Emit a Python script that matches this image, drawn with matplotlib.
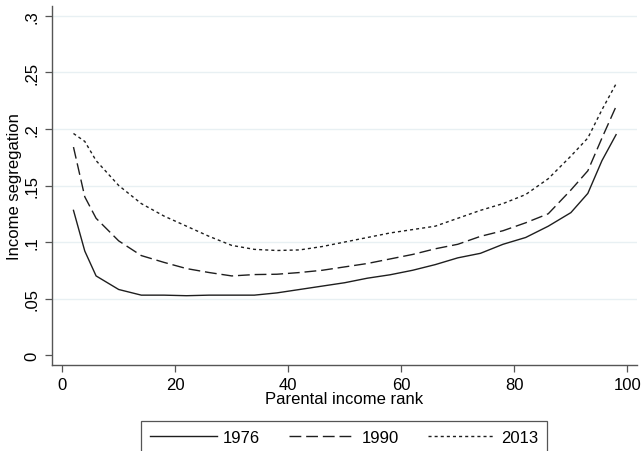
import matplotlib
matplotlib.use("Agg")
import matplotlib.pyplot as plt

plt.rcParams['font.family'] = ['Liberation Sans', 'DejaVu Sans']
plt.rcParams['lines.scale_dashes'] = False

# Data
rank = [2, 4, 6, 10, 14, 18, 22, 26, 30, 34, 38, 42, 46, 50, 54, 58,
        62, 66, 70, 74, 78, 82, 86, 90, 93, 95.5, 98]
seg_1976 = [0.128, 0.092, 0.070, 0.058, 0.053, 0.053, 0.0525, 0.053, 0.053,
            0.053, 0.055, 0.058, 0.061, 0.064, 0.068, 0.071, 0.075, 0.080,
            0.086, 0.090, 0.098, 0.104, 0.114, 0.126, 0.143, 0.172, 0.195]
seg_1990 = [0.184, 0.140, 0.121, 0.101, 0.088, 0.082, 0.0765, 0.073, 0.070,
            0.0712, 0.0715, 0.073, 0.075, 0.078, 0.081, 0.085, 0.089, 0.094,
            0.098, 0.105, 0.110, 0.117, 0.125, 0.146, 0.163, 0.192, 0.220]
seg_2013 = [0.196, 0.189, 0.172, 0.150, 0.134, 0.123, 0.114, 0.105, 0.097,
            0.0935, 0.0925, 0.093, 0.096, 0.100, 0.104, 0.108, 0.111, 0.114,
            0.121, 0.128, 0.134, 0.142, 0.156, 0.176, 0.192, 0.217, 0.240]
series_labels = ['1976', '1990', '2013']

yticks = [0, 0.05, 0.1, 0.15, 0.2, 0.25, 0.3]
ytick_labels = ['0', '.05', '.1', '.15', '.2', '.25', '.3']
xticks = [0, 20, 40, 60, 80, 100]

fig = plt.figure(figsize=(6.42, 4.52), dpi=100)
ax = fig.add_axes([52/642, 1-366/452, (637-52)/642, (366-7)/452])

col = '#1e1e1e'
lw = 1.0
l1, = ax.plot(rank, seg_1976, color=col, lw=lw, label=series_labels[0])
l2, = ax.plot(rank, seg_1990, color=col, lw=lw, label=series_labels[1])
l2.set_dashes((8.5, 3.5))
l3, = ax.plot(rank, seg_2013, color=col, lw=lw, label=series_labels[2])
l3.set_dashes((2.2, 2.2))

ax.set_xlim(-1.8, 101.7)
ax.set_ylim(-0.0088, 0.3088)

for v in yticks[1:]:
    ax.axhline(v, color='#e8f0f3', lw=1.0, zorder=0)

ax.set_yticks(yticks)
ax.set_yticklabels(ytick_labels, rotation=90, va='center')
ax.set_xticks(xticks)

for s in ['top', 'right']:
    ax.spines[s].set_visible(False)
for s in ['left', 'bottom']:
    ax.spines[s].set_color('#555555')
    ax.spines[s].set_linewidth(1.0)

ax.tick_params(axis='both', direction='out', length=5, width=0.9,
               color='#555555', labelsize=12, labelcolor='black')
ax.tick_params(axis='y', pad=4)
ax.tick_params(axis='x', pad=4)

ax.set_xlabel('Parental income rank', fontsize=12, labelpad=-1)
ax.set_ylabel('Income segregation', fontsize=12, labelpad=2)

leg = fig.legend(handles=[l1, l2, l3], loc='upper center',
                 bbox_to_anchor=(344/642, 1-422/452), ncol=3, fontsize=12,
                 handlelength=4.0, handletextpad=0.4, columnspacing=1.7,
                 borderpad=0.55, borderaxespad=0, fancybox=False,
                 framealpha=1, edgecolor='#555555')
leg.get_frame().set_linewidth(0.9)

fig.savefig('out.png', dpi=100)
